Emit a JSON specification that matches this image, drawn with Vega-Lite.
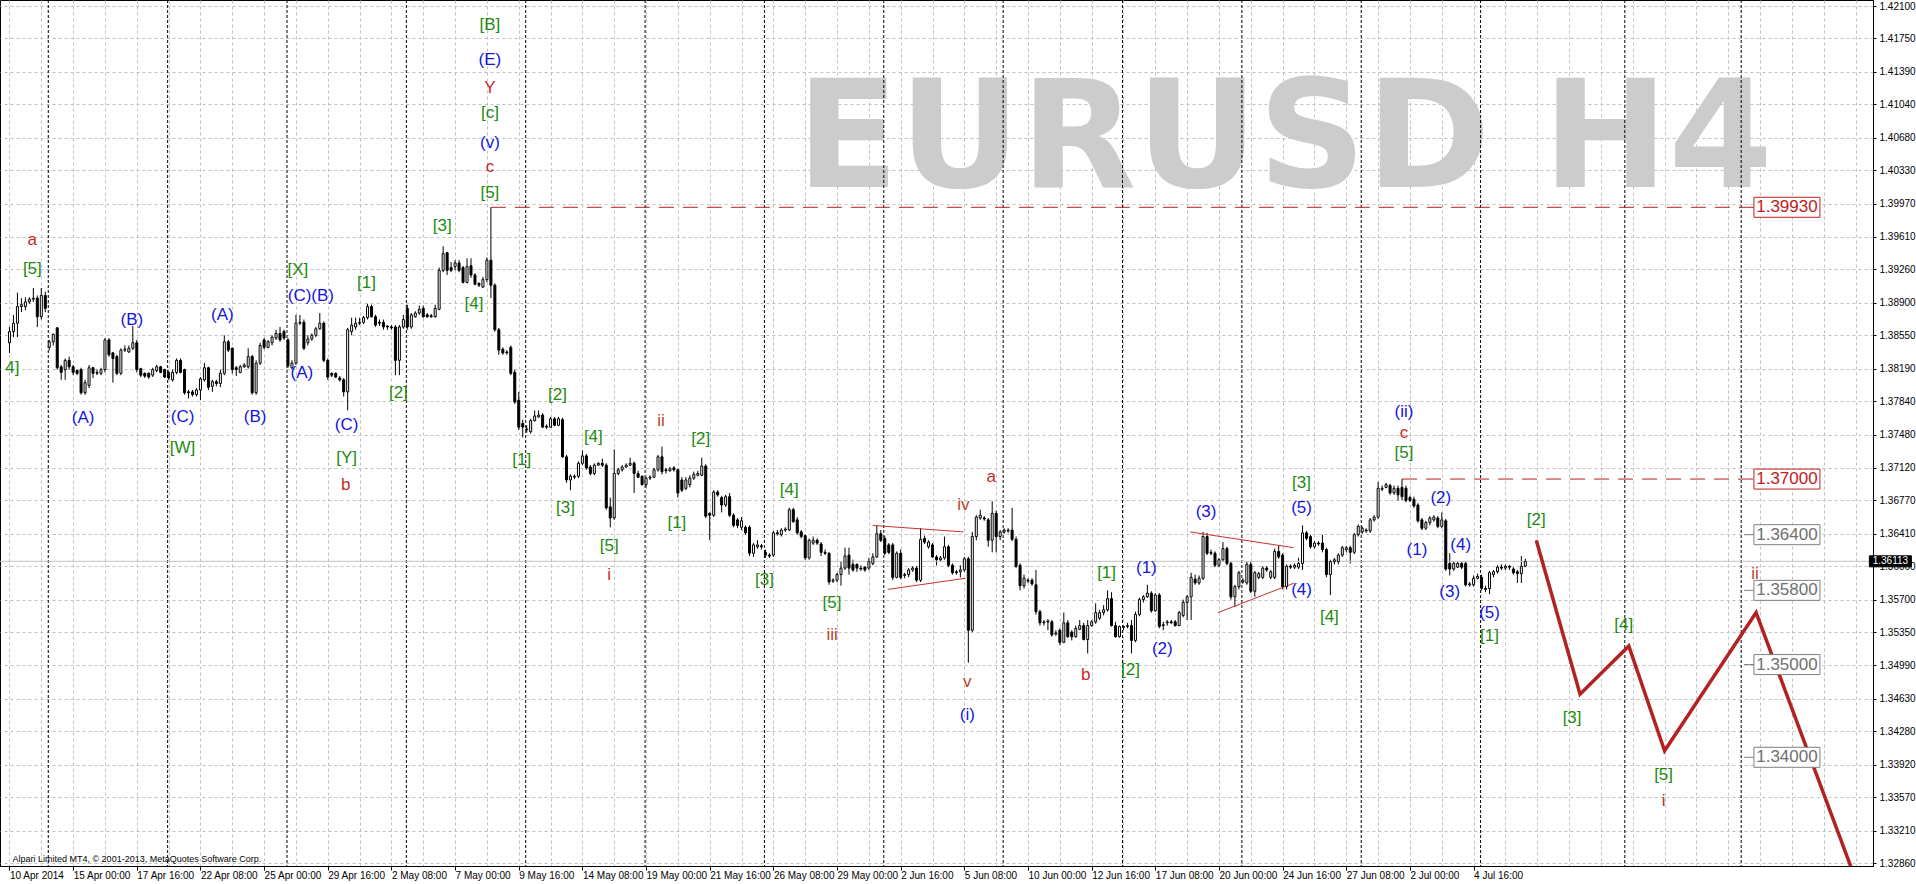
{
"$schema":"https://vega.github.io/schema/vega-lite/v6.json",
"width":1873,"height":866,
"autosize":{"type":"none"},
"padding":{"left":0,"top":0,"right":43,"bottom":18},
"background":"white",
"config":{"view":{"stroke":"black","strokeWidth":1},"text":{"font":"Liberation Sans"},"axis":{"labelOverlap":false,"labelSeparation":0,"labelBound":false}},
"datasets":{
"candles":[
{"i":0,"o":1.3847,"h":1.3864,"l":1.3836,"c":1.3859},{"i":1,"o":1.3859,"h":1.3877,"l":1.3853,"c":1.3868},{"i":2,"o":1.3868,"h":1.3901,"l":1.3853,"c":1.3886},{"i":3,"o":1.3886,"h":1.3895,"l":1.388,"c":1.3888},{"i":4,"o":1.3886,"h":1.3896,"l":1.3882,"c":1.3891},{"i":5,"o":1.3891,"h":1.3896,"l":1.3889,"c":1.3894},{"i":6,"o":1.3894,"h":1.3906,"l":1.3891,"c":1.3895},{"i":7,"o":1.3895,"h":1.3898,"l":1.3864,"c":1.3875},{"i":8,"o":1.3875,"h":1.3906,"l":1.3872,"c":1.3898},{"i":9,"o":1.3898,"h":1.3902,"l":1.388,"c":1.3884},
{"i":10,"o":1.3842,"h":1.385,"l":1.3839,"c":1.3848},{"i":11,"o":1.3848,"h":1.3857,"l":1.3844,"c":1.3856},{"i":12,"o":1.3863,"h":1.3864,"l":1.3818,"c":1.382},{"i":13,"o":1.3821,"h":1.3823,"l":1.3807,"c":1.3815},{"i":14,"o":1.3818,"h":1.383,"l":1.3807,"c":1.3828},{"i":15,"o":1.3828,"h":1.3832,"l":1.3818,"c":1.3821},{"i":16,"o":1.3821,"h":1.3823,"l":1.3812,"c":1.3815},{"i":17,"o":1.3817,"h":1.3818,"l":1.3812,"c":1.3814},{"i":18,"o":1.3818,"h":1.382,"l":1.3791,"c":1.3793},{"i":19,"o":1.3793,"h":1.3807,"l":1.3791,"c":1.3804},
{"i":20,"o":1.3801,"h":1.3823,"l":1.3798,"c":1.382},{"i":21,"o":1.382,"h":1.3821,"l":1.3809,"c":1.3814},{"i":22,"o":1.3814,"h":1.3818,"l":1.3812,"c":1.3815},{"i":23,"o":1.3814,"h":1.382,"l":1.3812,"c":1.3818},{"i":24,"o":1.3818,"h":1.3852,"l":1.3815,"c":1.385},{"i":25,"o":1.385,"h":1.3852,"l":1.3832,"c":1.3834},{"i":26,"o":1.3836,"h":1.3837,"l":1.3804,"c":1.383},{"i":27,"o":1.3832,"h":1.3834,"l":1.3812,"c":1.3814},{"i":28,"o":1.3814,"h":1.3841,"l":1.3812,"c":1.3839},{"i":29,"o":1.3839,"h":1.3844,"l":1.3837,"c":1.384},
{"i":30,"o":1.3837,"h":1.3844,"l":1.3836,"c":1.3841},{"i":31,"o":1.3841,"h":1.3865,"l":1.3839,"c":1.3847},{"i":32,"o":1.3847,"h":1.385,"l":1.3815,"c":1.3818},{"i":33,"o":1.3819,"h":1.382,"l":1.381,"c":1.3812},{"i":34,"o":1.3814,"h":1.3815,"l":1.3809,"c":1.3811},{"i":35,"o":1.3814,"h":1.3815,"l":1.3808,"c":1.381},{"i":36,"o":1.3812,"h":1.382,"l":1.381,"c":1.3818},{"i":37,"o":1.3817,"h":1.3823,"l":1.3815,"c":1.3821},{"i":38,"o":1.3821,"h":1.3822,"l":1.3814,"c":1.3815},{"i":39,"o":1.3818,"h":1.3819,"l":1.3809,"c":1.381},
{"i":40,"o":1.3815,"h":1.3817,"l":1.3807,"c":1.3809},{"i":41,"o":1.3807,"h":1.3818,"l":1.3805,"c":1.3815},{"i":42,"o":1.3815,"h":1.383,"l":1.3813,"c":1.3828},{"i":43,"o":1.3828,"h":1.383,"l":1.3814,"c":1.3815},{"i":44,"o":1.3818,"h":1.3819,"l":1.3791,"c":1.3793},{"i":45,"o":1.3794,"h":1.3796,"l":1.3787,"c":1.3793},{"i":46,"o":1.3794,"h":1.3796,"l":1.3789,"c":1.3791},{"i":47,"o":1.3791,"h":1.3798,"l":1.3789,"c":1.3796},{"i":48,"o":1.3796,"h":1.381,"l":1.3785,"c":1.3808},{"i":49,"o":1.3807,"h":1.3825,"l":1.3805,"c":1.382},
{"i":50,"o":1.382,"h":1.3821,"l":1.3796,"c":1.3799},{"i":51,"o":1.38,"h":1.3807,"l":1.3794,"c":1.3805},{"i":52,"o":1.3805,"h":1.3807,"l":1.38,"c":1.3803},{"i":53,"o":1.3803,"h":1.3818,"l":1.3799,"c":1.3814},{"i":54,"o":1.3814,"h":1.3855,"l":1.3812,"c":1.3848},{"i":55,"o":1.3848,"h":1.385,"l":1.3837,"c":1.3839},{"i":56,"o":1.3841,"h":1.3842,"l":1.3814,"c":1.3818},{"i":57,"o":1.382,"h":1.3822,"l":1.3811,"c":1.3818},{"i":58,"o":1.3815,"h":1.3823,"l":1.3814,"c":1.3821},{"i":59,"o":1.3821,"h":1.3825,"l":1.382,"c":1.3823},
{"i":60,"o":1.3821,"h":1.3841,"l":1.3819,"c":1.3832},{"i":61,"o":1.3832,"h":1.3834,"l":1.3791,"c":1.3793},{"i":62,"o":1.3793,"h":1.3828,"l":1.3791,"c":1.3825},{"i":63,"o":1.3825,"h":1.3847,"l":1.3823,"c":1.3844},{"i":64,"o":1.385,"h":1.3852,"l":1.384,"c":1.3842},{"i":65,"o":1.3842,"h":1.385,"l":1.3841,"c":1.3848},{"i":66,"o":1.3847,"h":1.3855,"l":1.3844,"c":1.3853},{"i":67,"o":1.3852,"h":1.3861,"l":1.385,"c":1.3857},{"i":68,"o":1.3857,"h":1.3864,"l":1.3848,"c":1.385},{"i":69,"o":1.3859,"h":1.3861,"l":1.385,"c":1.3852},
{"i":70,"o":1.385,"h":1.3852,"l":1.382,"c":1.3822},{"i":71,"o":1.382,"h":1.3828,"l":1.3818,"c":1.3825},{"i":72,"o":1.3825,"h":1.3877,"l":1.3823,"c":1.3868},{"i":73,"o":1.3868,"h":1.3877,"l":1.3866,"c":1.3869},{"i":74,"o":1.3869,"h":1.3872,"l":1.3839,"c":1.3841},{"i":75,"o":1.3847,"h":1.3855,"l":1.3844,"c":1.3851},{"i":76,"o":1.3851,"h":1.3857,"l":1.3849,"c":1.3855},{"i":77,"o":1.3855,"h":1.3864,"l":1.3853,"c":1.3862},{"i":78,"o":1.3862,"h":1.3879,"l":1.3861,"c":1.3868},{"i":79,"o":1.3868,"h":1.387,"l":1.3826,"c":1.3828},
{"i":80,"o":1.3828,"h":1.383,"l":1.3807,"c":1.381},{"i":81,"o":1.3814,"h":1.3815,"l":1.381,"c":1.3812},{"i":82,"o":1.3814,"h":1.3815,"l":1.3809,"c":1.381},{"i":83,"o":1.3809,"h":1.3811,"l":1.3805,"c":1.3807},{"i":84,"o":1.3807,"h":1.3809,"l":1.3789,"c":1.3794},{"i":85,"o":1.3794,"h":1.3863,"l":1.3774,"c":1.3861},{"i":86,"o":1.3859,"h":1.3874,"l":1.3855,"c":1.3866},{"i":87,"o":1.3864,"h":1.3874,"l":1.3861,"c":1.3868},{"i":88,"o":1.3868,"h":1.3874,"l":1.3866,"c":1.3869},{"i":89,"o":1.3869,"h":1.3876,"l":1.3867,"c":1.3874},
{"i":90,"o":1.3874,"h":1.3889,"l":1.3872,"c":1.3886},{"i":91,"o":1.3886,"h":1.3888,"l":1.3874,"c":1.3875},{"i":92,"o":1.3875,"h":1.3877,"l":1.3864,"c":1.3866},{"i":93,"o":1.3869,"h":1.3872,"l":1.3865,"c":1.3868},{"i":94,"o":1.3869,"h":1.3872,"l":1.3861,"c":1.3864},{"i":95,"o":1.3865,"h":1.3866,"l":1.3861,"c":1.3864},{"i":96,"o":1.3864,"h":1.3866,"l":1.3861,"c":1.3863},{"i":97,"o":1.3864,"h":1.3866,"l":1.3812,"c":1.3828},{"i":98,"o":1.3828,"h":1.3866,"l":1.3812,"c":1.3864},{"i":99,"o":1.3864,"h":1.3877,"l":1.3862,"c":1.3872},
{"i":100,"o":1.3884,"h":1.3888,"l":1.3861,"c":1.3864},{"i":101,"o":1.3864,"h":1.3879,"l":1.3862,"c":1.3877},{"i":102,"o":1.3875,"h":1.3881,"l":1.3874,"c":1.3879},{"i":103,"o":1.3879,"h":1.3887,"l":1.3877,"c":1.3883},{"i":104,"o":1.3884,"h":1.3887,"l":1.3874,"c":1.3875},{"i":105,"o":1.3877,"h":1.3879,"l":1.3874,"c":1.3875},{"i":106,"o":1.3876,"h":1.3878,"l":1.3874,"c":1.3875},{"i":107,"o":1.3875,"h":1.3888,"l":1.3874,"c":1.3884},{"i":108,"o":1.3883,"h":1.3928,"l":1.3882,"c":1.3925},{"i":109,"o":1.3925,"h":1.3951,"l":1.3923,"c":1.3943},
{"i":110,"o":1.3944,"h":1.3945,"l":1.392,"c":1.3925},{"i":111,"o":1.3928,"h":1.3934,"l":1.3923,"c":1.3925},{"i":112,"o":1.3929,"h":1.3936,"l":1.3925,"c":1.3933},{"i":113,"o":1.3933,"h":1.3936,"l":1.3923,"c":1.3925},{"i":114,"o":1.3928,"h":1.393,"l":1.3911,"c":1.3912},{"i":115,"o":1.3912,"h":1.3938,"l":1.3911,"c":1.3929},{"i":116,"o":1.393,"h":1.3938,"l":1.3917,"c":1.392},{"i":117,"o":1.392,"h":1.3922,"l":1.3909,"c":1.391},{"i":118,"o":1.3911,"h":1.3912,"l":1.3907,"c":1.3909},{"i":119,"o":1.3907,"h":1.3918,"l":1.3906,"c":1.3915},
{"i":120,"o":1.3915,"h":1.3939,"l":1.3912,"c":1.3936},{"i":121,"o":1.3936,"h":1.3993,"l":1.3895,"c":1.3909},{"i":122,"o":1.3909,"h":1.3911,"l":1.3859,"c":1.3861},{"i":123,"o":1.3861,"h":1.3863,"l":1.3834,"c":1.3839},{"i":124,"o":1.384,"h":1.3842,"l":1.3834,"c":1.3836},{"i":125,"o":1.3837,"h":1.3839,"l":1.3834,"c":1.3836},{"i":126,"o":1.3842,"h":1.3844,"l":1.3812,"c":1.3814},{"i":127,"o":1.3815,"h":1.3818,"l":1.3781,"c":1.3783},{"i":128,"o":1.3785,"h":1.3794,"l":1.3753,"c":1.3756},{"i":129,"o":1.376,"h":1.3764,"l":1.3745,"c":1.3756},
{"i":130,"o":1.3753,"h":1.3758,"l":1.375,"c":1.3754},{"i":131,"o":1.3751,"h":1.3765,"l":1.3749,"c":1.3763},{"i":132,"o":1.3763,"h":1.3774,"l":1.3762,"c":1.3768},{"i":133,"o":1.3767,"h":1.3774,"l":1.3766,"c":1.3769},{"i":134,"o":1.3769,"h":1.3771,"l":1.3755,"c":1.3756},{"i":135,"o":1.3757,"h":1.3759,"l":1.3754,"c":1.3756},{"i":136,"o":1.3756,"h":1.3767,"l":1.3755,"c":1.3765},{"i":137,"o":1.3765,"h":1.3767,"l":1.3757,"c":1.3758},{"i":138,"o":1.3758,"h":1.3767,"l":1.3757,"c":1.3765},{"i":139,"o":1.3764,"h":1.3766,"l":1.3723,"c":1.3724},
{"i":140,"o":1.3724,"h":1.3726,"l":1.3696,"c":1.3699},{"i":141,"o":1.3699,"h":1.3705,"l":1.3688,"c":1.3703},{"i":142,"o":1.3702,"h":1.3705,"l":1.37,"c":1.3703},{"i":143,"o":1.3703,"h":1.3719,"l":1.3701,"c":1.3717},{"i":144,"o":1.3717,"h":1.3731,"l":1.3715,"c":1.3725},{"i":145,"o":1.3725,"h":1.3727,"l":1.371,"c":1.3712},{"i":146,"o":1.3713,"h":1.3715,"l":1.3704,"c":1.3706},{"i":147,"o":1.3706,"h":1.3717,"l":1.3704,"c":1.3715},{"i":148,"o":1.3715,"h":1.3718,"l":1.3714,"c":1.3717},{"i":149,"o":1.3717,"h":1.3722,"l":1.3713,"c":1.3715},
{"i":150,"o":1.3715,"h":1.3717,"l":1.3667,"c":1.3669},{"i":151,"o":1.367,"h":1.368,"l":1.3648,"c":1.3658},{"i":152,"o":1.3658,"h":1.3732,"l":1.3656,"c":1.3706},{"i":153,"o":1.3706,"h":1.3712,"l":1.3704,"c":1.371},{"i":154,"o":1.371,"h":1.3715,"l":1.3708,"c":1.3713},{"i":155,"o":1.3713,"h":1.3717,"l":1.3712,"c":1.3715},{"i":156,"o":1.3715,"h":1.3723,"l":1.3714,"c":1.3717},{"i":157,"o":1.3717,"h":1.3719,"l":1.3685,"c":1.3706},{"i":158,"o":1.3706,"h":1.3709,"l":1.3701,"c":1.3702},{"i":159,"o":1.3703,"h":1.3704,"l":1.3693,"c":1.3694},
{"i":160,"o":1.3694,"h":1.3702,"l":1.3691,"c":1.3701},{"i":161,"o":1.3701,"h":1.3704,"l":1.3699,"c":1.3702},{"i":162,"o":1.3702,"h":1.3712,"l":1.3701,"c":1.371},{"i":163,"o":1.371,"h":1.3726,"l":1.3708,"c":1.3724},{"i":164,"o":1.3724,"h":1.3735,"l":1.3705,"c":1.3708},{"i":165,"o":1.371,"h":1.3712,"l":1.3706,"c":1.3709},{"i":166,"o":1.3709,"h":1.3713,"l":1.3708,"c":1.3711},{"i":167,"o":1.3712,"h":1.3714,"l":1.3708,"c":1.371},{"i":168,"o":1.371,"h":1.3711,"l":1.368,"c":1.3685},{"i":169,"o":1.3699,"h":1.3702,"l":1.3686,"c":1.3688},
{"i":170,"o":1.369,"h":1.3702,"l":1.3688,"c":1.3699},{"i":171,"o":1.3694,"h":1.3704,"l":1.3691,"c":1.3701},{"i":172,"o":1.3701,"h":1.3708,"l":1.3699,"c":1.3705},{"i":173,"o":1.3704,"h":1.3709,"l":1.3703,"c":1.3706},{"i":174,"o":1.3704,"h":1.3723,"l":1.3703,"c":1.3714},{"i":175,"o":1.3714,"h":1.3716,"l":1.3658,"c":1.366},{"i":176,"o":1.3663,"h":1.3664,"l":1.3634,"c":1.3661},{"i":177,"o":1.3661,"h":1.3688,"l":1.3659,"c":1.3686},{"i":178,"o":1.3686,"h":1.3688,"l":1.3681,"c":1.3683},{"i":179,"o":1.368,"h":1.3682,"l":1.3664,"c":1.3672},
{"i":180,"o":1.3672,"h":1.3683,"l":1.367,"c":1.3681},{"i":181,"o":1.3681,"h":1.3685,"l":1.3659,"c":1.3661},{"i":182,"o":1.3661,"h":1.3663,"l":1.3648,"c":1.365},{"i":183,"o":1.3656,"h":1.3658,"l":1.3647,"c":1.365},{"i":184,"o":1.3648,"h":1.3659,"l":1.3645,"c":1.3655},{"i":185,"o":1.3648,"h":1.365,"l":1.364,"c":1.3642},{"i":186,"o":1.3648,"h":1.365,"l":1.3617,"c":1.362},{"i":187,"o":1.362,"h":1.3631,"l":1.3616,"c":1.3629},{"i":188,"o":1.3627,"h":1.3634,"l":1.3625,"c":1.3629},{"i":189,"o":1.3628,"h":1.363,"l":1.3624,"c":1.3627},
{"i":190,"o":1.3621,"h":1.3624,"l":1.3615,"c":1.3618},{"i":191,"o":1.3618,"h":1.362,"l":1.3615,"c":1.3617},{"i":192,"o":1.3618,"h":1.3644,"l":1.3616,"c":1.3642},{"i":193,"o":1.3642,"h":1.3645,"l":1.3639,"c":1.3641},{"i":194,"o":1.364,"h":1.3647,"l":1.3638,"c":1.3645},{"i":195,"o":1.3645,"h":1.3648,"l":1.3643,"c":1.3646},{"i":196,"o":1.3645,"h":1.3669,"l":1.3644,"c":1.3667},{"i":197,"o":1.3667,"h":1.3669,"l":1.3653,"c":1.3654},{"i":198,"o":1.3656,"h":1.3659,"l":1.364,"c":1.3642},{"i":199,"o":1.3643,"h":1.3645,"l":1.3636,"c":1.3638},
{"i":200,"o":1.3639,"h":1.364,"l":1.3613,"c":1.3615},{"i":201,"o":1.3615,"h":1.3636,"l":1.3613,"c":1.3634},{"i":202,"o":1.3631,"h":1.3638,"l":1.3629,"c":1.3634},{"i":203,"o":1.3634,"h":1.3636,"l":1.3629,"c":1.3631},{"i":204,"o":1.363,"h":1.3632,"l":1.3617,"c":1.3621},{"i":205,"o":1.3621,"h":1.3624,"l":1.3618,"c":1.362},{"i":206,"o":1.362,"h":1.3621,"l":1.3586,"c":1.3589},{"i":207,"o":1.359,"h":1.3593,"l":1.3588,"c":1.3591},{"i":208,"o":1.3591,"h":1.3599,"l":1.3589,"c":1.3597},{"i":209,"o":1.3597,"h":1.3611,"l":1.3585,"c":1.3604},
{"i":210,"o":1.3604,"h":1.3626,"l":1.3602,"c":1.3617},{"i":211,"o":1.3618,"h":1.3626,"l":1.3597,"c":1.3604},{"i":212,"o":1.3608,"h":1.3613,"l":1.36,"c":1.3602},{"i":213,"o":1.3608,"h":1.3609,"l":1.36,"c":1.3604},{"i":214,"o":1.3604,"h":1.3607,"l":1.3601,"c":1.3603},{"i":215,"o":1.3605,"h":1.3606,"l":1.36,"c":1.3602},{"i":216,"o":1.3604,"h":1.3615,"l":1.3602,"c":1.3611},{"i":217,"o":1.3609,"h":1.362,"l":1.3607,"c":1.3616},{"i":218,"o":1.3616,"h":1.365,"l":1.3615,"c":1.3641},{"i":219,"o":1.3641,"h":1.3645,"l":1.3632,"c":1.3634},
{"i":220,"o":1.3636,"h":1.3639,"l":1.3618,"c":1.362},{"i":221,"o":1.3629,"h":1.3631,"l":1.3619,"c":1.3621},{"i":222,"o":1.3629,"h":1.3631,"l":1.3591,"c":1.3594},{"i":223,"o":1.3594,"h":1.3622,"l":1.3593,"c":1.362},{"i":224,"o":1.362,"h":1.3624,"l":1.3592,"c":1.3594},{"i":225,"o":1.3596,"h":1.3599,"l":1.3593,"c":1.3597},{"i":226,"o":1.3597,"h":1.3604,"l":1.3594,"c":1.3602},{"i":227,"o":1.3602,"h":1.3606,"l":1.36,"c":1.3604},{"i":228,"o":1.3604,"h":1.3606,"l":1.3589,"c":1.3591},{"i":229,"o":1.3591,"h":1.3647,"l":1.3589,"c":1.3635},
{"i":230,"o":1.3636,"h":1.3639,"l":1.363,"c":1.3632},{"i":231,"o":1.3627,"h":1.3634,"l":1.3625,"c":1.3632},{"i":232,"o":1.3629,"h":1.3631,"l":1.3615,"c":1.3616},{"i":233,"o":1.3616,"h":1.3618,"l":1.3607,"c":1.3613},{"i":234,"o":1.3613,"h":1.3617,"l":1.3611,"c":1.3615},{"i":235,"o":1.3615,"h":1.3638,"l":1.3613,"c":1.3627},{"i":236,"o":1.3627,"h":1.3629,"l":1.3605,"c":1.3607},{"i":237,"o":1.3607,"h":1.3609,"l":1.3597,"c":1.3599},{"i":238,"o":1.36,"h":1.3602,"l":1.3597,"c":1.3599},{"i":239,"o":1.36,"h":1.3607,"l":1.3594,"c":1.3602},
{"i":240,"o":1.3602,"h":1.3616,"l":1.36,"c":1.3614},{"i":241,"o":1.3614,"h":1.3616,"l":1.3502,"c":1.3537},{"i":242,"o":1.3537,"h":1.3643,"l":1.3535,"c":1.3638},{"i":243,"o":1.3638,"h":1.3661,"l":1.3634,"c":1.3659},{"i":244,"o":1.3658,"h":1.3667,"l":1.3656,"c":1.3661},{"i":245,"o":1.3658,"h":1.366,"l":1.3655,"c":1.3657},{"i":246,"o":1.3656,"h":1.3658,"l":1.3627,"c":1.3634},{"i":247,"o":1.3634,"h":1.3676,"l":1.3621,"c":1.3663},{"i":248,"o":1.3663,"h":1.3666,"l":1.3621,"c":1.3638},{"i":249,"o":1.3638,"h":1.3645,"l":1.3634,"c":1.3643},
{"i":250,"o":1.3643,"h":1.3647,"l":1.3641,"c":1.3645},{"i":251,"o":1.3644,"h":1.3647,"l":1.3642,"c":1.3645},{"i":252,"o":1.3645,"h":1.3669,"l":1.3633,"c":1.3635},{"i":253,"o":1.3635,"h":1.3638,"l":1.3604,"c":1.3606},{"i":254,"o":1.3607,"h":1.3609,"l":1.358,"c":1.3585},{"i":255,"o":1.3585,"h":1.3597,"l":1.3582,"c":1.3593},{"i":256,"o":1.3591,"h":1.3593,"l":1.3588,"c":1.359},{"i":257,"o":1.3591,"h":1.3593,"l":1.3585,"c":1.3587},{"i":258,"o":1.3586,"h":1.3602,"l":1.3554,"c":1.3557},{"i":259,"o":1.3557,"h":1.3559,"l":1.3542,"c":1.3545},
{"i":260,"o":1.3545,"h":1.3548,"l":1.3542,"c":1.3546},{"i":261,"o":1.3547,"h":1.3549,"l":1.3537,"c":1.3546},{"i":262,"o":1.3546,"h":1.3548,"l":1.353,"c":1.3532},{"i":263,"o":1.3533,"h":1.3537,"l":1.3531,"c":1.3534},{"i":264,"o":1.3537,"h":1.3539,"l":1.3521,"c":1.3524},{"i":265,"o":1.3524,"h":1.3556,"l":1.3523,"c":1.3545},{"i":266,"o":1.3545,"h":1.3548,"l":1.3529,"c":1.353},{"i":267,"o":1.3535,"h":1.3537,"l":1.3526,"c":1.353},{"i":268,"o":1.353,"h":1.3542,"l":1.3529,"c":1.3539},{"i":269,"o":1.3538,"h":1.3548,"l":1.3537,"c":1.3542},
{"i":270,"o":1.3542,"h":1.3545,"l":1.3526,"c":1.3527},{"i":271,"o":1.3527,"h":1.3548,"l":1.3512,"c":1.3542},{"i":272,"o":1.3542,"h":1.3548,"l":1.3541,"c":1.3546},{"i":273,"o":1.3546,"h":1.3566,"l":1.3544,"c":1.3556},{"i":274,"o":1.355,"h":1.3559,"l":1.3548,"c":1.3556},{"i":275,"o":1.3556,"h":1.3564,"l":1.3553,"c":1.3559},{"i":276,"o":1.3559,"h":1.358,"l":1.3557,"c":1.3571},{"i":277,"o":1.3571,"h":1.3578,"l":1.3541,"c":1.3542},{"i":278,"o":1.3542,"h":1.3546,"l":1.3529,"c":1.353},{"i":279,"o":1.353,"h":1.3542,"l":1.3529,"c":1.3541},
{"i":280,"o":1.354,"h":1.3542,"l":1.3537,"c":1.3541},{"i":281,"o":1.3541,"h":1.3545,"l":1.3539,"c":1.3542},{"i":282,"o":1.3542,"h":1.3548,"l":1.3512,"c":1.3526},{"i":283,"o":1.3526,"h":1.3557,"l":1.3524,"c":1.3554},{"i":284,"o":1.3554,"h":1.3572,"l":1.3552,"c":1.357},{"i":285,"o":1.357,"h":1.3575,"l":1.3567,"c":1.3573},{"i":286,"o":1.3573,"h":1.3586,"l":1.3572,"c":1.3577},{"i":287,"o":1.3577,"h":1.3579,"l":1.3556,"c":1.3558},{"i":288,"o":1.3558,"h":1.3577,"l":1.3557,"c":1.3575},{"i":289,"o":1.3575,"h":1.3577,"l":1.3539,"c":1.3541},
{"i":290,"o":1.3542,"h":1.3546,"l":1.3537,"c":1.3543},{"i":291,"o":1.3545,"h":1.3548,"l":1.3542,"c":1.3546},{"i":292,"o":1.3546,"h":1.3548,"l":1.3544,"c":1.3545},{"i":293,"o":1.3546,"h":1.3548,"l":1.3541,"c":1.3542},{"i":294,"o":1.3542,"h":1.3558,"l":1.3542,"c":1.3556},{"i":295,"o":1.3553,"h":1.357,"l":1.3551,"c":1.3567},{"i":296,"o":1.3567,"h":1.3575,"l":1.3548,"c":1.3573},{"i":297,"o":1.3573,"h":1.3599,"l":1.3548,"c":1.3594},{"i":298,"o":1.3592,"h":1.3597,"l":1.3586,"c":1.3588},{"i":299,"o":1.3588,"h":1.3596,"l":1.3586,"c":1.3593},
{"i":300,"o":1.3593,"h":1.3643,"l":1.3591,"c":1.3638},{"i":301,"o":1.3638,"h":1.3642,"l":1.3618,"c":1.362},{"i":302,"o":1.3621,"h":1.3624,"l":1.3618,"c":1.362},{"i":303,"o":1.362,"h":1.3622,"l":1.3605,"c":1.3607},{"i":304,"o":1.3607,"h":1.3615,"l":1.3605,"c":1.3613},{"i":305,"o":1.3613,"h":1.3632,"l":1.3611,"c":1.3625},{"i":306,"o":1.3625,"h":1.3627,"l":1.3607,"c":1.3609},{"i":307,"o":1.3609,"h":1.3611,"l":1.357,"c":1.3573},{"i":308,"o":1.3573,"h":1.3586,"l":1.3562,"c":1.3584},{"i":309,"o":1.3584,"h":1.3601,"l":1.3581,"c":1.3599},
{"i":310,"o":1.3589,"h":1.3593,"l":1.3587,"c":1.3591},{"i":311,"o":1.3588,"h":1.3611,"l":1.3586,"c":1.3608},{"i":312,"o":1.3608,"h":1.3611,"l":1.3577,"c":1.3579},{"i":313,"o":1.3579,"h":1.3601,"l":1.3573,"c":1.3599},{"i":314,"o":1.3594,"h":1.36,"l":1.3592,"c":1.3598},{"i":315,"o":1.3594,"h":1.3606,"l":1.3592,"c":1.3604},{"i":316,"o":1.3604,"h":1.3606,"l":1.36,"c":1.3602},{"i":317,"o":1.3594,"h":1.3602,"l":1.3592,"c":1.36},{"i":318,"o":1.3594,"h":1.3625,"l":1.3592,"c":1.3622},{"i":319,"o":1.3622,"h":1.3628,"l":1.3614,"c":1.3616},
{"i":320,"o":1.3618,"h":1.362,"l":1.3581,"c":1.3584},{"i":321,"o":1.3584,"h":1.3608,"l":1.3581,"c":1.3606},{"i":322,"o":1.3606,"h":1.3608,"l":1.3603,"c":1.3605},{"i":323,"o":1.3605,"h":1.3609,"l":1.3603,"c":1.3607},{"i":324,"o":1.3605,"h":1.3615,"l":1.3603,"c":1.3609},{"i":325,"o":1.3609,"h":1.365,"l":1.3602,"c":1.3642},{"i":326,"o":1.3642,"h":1.3644,"l":1.3634,"c":1.3636},{"i":327,"o":1.3638,"h":1.364,"l":1.3625,"c":1.3627},{"i":328,"o":1.3627,"h":1.3633,"l":1.3625,"c":1.3631},{"i":329,"o":1.3631,"h":1.3633,"l":1.3628,"c":1.363},
{"i":330,"o":1.3631,"h":1.364,"l":1.3621,"c":1.3624},{"i":331,"o":1.3624,"h":1.3626,"l":1.3594,"c":1.3597},{"i":332,"o":1.3597,"h":1.3613,"l":1.3575,"c":1.3611},{"i":333,"o":1.3611,"h":1.3615,"l":1.3608,"c":1.3613},{"i":334,"o":1.3611,"h":1.362,"l":1.3608,"c":1.3618},{"i":335,"o":1.3618,"h":1.3628,"l":1.3616,"c":1.3626},{"i":336,"o":1.3624,"h":1.3628,"l":1.3621,"c":1.3626},{"i":337,"o":1.3626,"h":1.3628,"l":1.3609,"c":1.3621},{"i":338,"o":1.3621,"h":1.3642,"l":1.3619,"c":1.364},{"i":339,"o":1.364,"h":1.3651,"l":1.3638,"c":1.3649},
{"i":340,"o":1.3643,"h":1.3649,"l":1.3641,"c":1.3647},{"i":341,"o":1.3645,"h":1.3647,"l":1.3642,"c":1.3644},{"i":342,"o":1.3644,"h":1.3658,"l":1.3642,"c":1.3656},{"i":343,"o":1.3656,"h":1.3661,"l":1.3654,"c":1.3659},{"i":344,"o":1.3659,"h":1.3697,"l":1.3657,"c":1.369},{"i":345,"o":1.3689,"h":1.3693,"l":1.3687,"c":1.369},{"i":346,"o":1.3691,"h":1.3696,"l":1.369,"c":1.3694},{"i":347,"o":1.3693,"h":1.3695,"l":1.3683,"c":1.3685},{"i":348,"o":1.3685,"h":1.3693,"l":1.3683,"c":1.369},{"i":349,"o":1.369,"h":1.3693,"l":1.3677,"c":1.3683},
{"i":350,"o":1.3691,"h":1.37,"l":1.3677,"c":1.3681},{"i":351,"o":1.369,"h":1.3693,"l":1.3675,"c":1.3677},{"i":352,"o":1.368,"h":1.3682,"l":1.3675,"c":1.3677},{"i":353,"o":1.3678,"h":1.3681,"l":1.3669,"c":1.3671},{"i":354,"o":1.3672,"h":1.3674,"l":1.3653,"c":1.3655},{"i":355,"o":1.3656,"h":1.3658,"l":1.3645,"c":1.3647},{"i":356,"o":1.3647,"h":1.3655,"l":1.3645,"c":1.3653},{"i":357,"o":1.3653,"h":1.366,"l":1.365,"c":1.3658},{"i":358,"o":1.3656,"h":1.3661,"l":1.3654,"c":1.3659},{"i":359,"o":1.3658,"h":1.366,"l":1.3647,"c":1.3649},
{"i":360,"o":1.3649,"h":1.3664,"l":1.3647,"c":1.3656},{"i":361,"o":1.3655,"h":1.3657,"l":1.3601,"c":1.3603},{"i":362,"o":1.3609,"h":1.362,"l":1.3596,"c":1.3603},{"i":363,"o":1.3603,"h":1.3611,"l":1.3601,"c":1.3609},{"i":364,"o":1.3605,"h":1.3611,"l":1.3604,"c":1.3609},{"i":365,"o":1.3609,"h":1.3611,"l":1.3603,"c":1.3605},{"i":366,"o":1.3609,"h":1.3611,"l":1.3584,"c":1.3586},{"i":367,"o":1.3586,"h":1.3589,"l":1.3584,"c":1.3587},{"i":368,"o":1.3586,"h":1.3596,"l":1.3584,"c":1.3593},{"i":369,"o":1.3593,"h":1.3598,"l":1.3592,"c":1.3595},
{"i":370,"o":1.3594,"h":1.3597,"l":1.358,"c":1.3582},{"i":371,"o":1.3582,"h":1.3585,"l":1.3578,"c":1.3581},{"i":372,"o":1.3582,"h":1.3601,"l":1.3576,"c":1.3599},{"i":373,"o":1.3597,"h":1.3602,"l":1.3594,"c":1.36},{"i":374,"o":1.36,"h":1.3607,"l":1.3598,"c":1.3605},{"i":375,"o":1.3605,"h":1.3608,"l":1.3602,"c":1.3604},{"i":376,"o":1.3604,"h":1.3608,"l":1.3602,"c":1.3606},{"i":377,"o":1.3606,"h":1.3607,"l":1.3602,"c":1.3605},{"i":378,"o":1.3603,"h":1.3605,"l":1.3597,"c":1.3599},{"i":379,"o":1.36,"h":1.3602,"l":1.3588,"c":1.3598},
{"i":380,"o":1.3598,"h":1.3617,"l":1.3588,"c":1.3606},{"i":381,"o":1.3606,"h":1.3614,"l":1.3605,"c":1.36113}
],
"labels":[
{"i":120.75,"p":1.41895,"t":"[B]","k":"g"},{"i":120.75,"p":1.41518,"t":"(E)","k":"b"},{"i":120.75,"p":1.41216,"t":"Y","k":"r"},{"i":120.75,"p":1.40947,"t":"[c]","k":"g"},{"i":120.75,"p":1.40623,"t":"(v)","k":"b"},{"i":120.75,"p":1.40364,"t":"c","k":"r"},{"i":120.75,"p":1.40084,"t":"[5]","k":"g"},{"i":108.75,"p":1.39728,"t":"[3]","k":"g"},
{"i":5.75,"p":1.39577,"t":"a","k":"r"},{"i":5.75,"p":1.39265,"t":"[5]","k":"g"},{"i":0.75,"p":1.38197,"t":"4]","k":"g"},{"i":18.5,"p":1.37658,"t":"(A)","k":"b"},{"i":30.75,"p":1.38715,"t":"(B)","k":"b"},{"i":43.5,"p":1.37669,"t":"(C)","k":"b"},{"i":43.5,"p":1.37335,"t":"[W]","k":"g"},{"i":53.5,"p":1.38769,"t":"(A)","k":"b"},{"i":61.75,"p":1.37669,"t":"(B)","k":"b"},{"i":72.5,"p":1.39254,"t":"[X]","k":"g"},{"i":75.75,"p":1.38973,"t":"(C)(B)","k":"b"},{"i":73.5,"p":1.38143,"t":"(A)","k":"b"},{"i":89.75,"p":1.39114,"t":"[1]","k":"g"},{"i":84.75,"p":1.37583,"t":"(C)","k":"b"},{"i":84.75,"p":1.37227,"t":"[Y]","k":"g"},{"i":84.5,"p":1.36936,"t":"b","k":"r"},{"i":97.75,"p":1.37928,"t":"[2]","k":"g"},{"i":116.75,"p":1.38887,"t":"[4]","k":"g"},
{"i":137.75,"p":1.37906,"t":"[2]","k":"g"},{"i":128.75,"p":1.37205,"t":"[1]","k":"g"},{"i":146.75,"p":1.37453,"t":"[4]","k":"g"},{"i":139.75,"p":1.36688,"t":"[3]","k":"g"},{"i":163.75,"p":1.37626,"t":"ii","k":"m"},{"i":173.75,"p":1.37432,"t":"[2]","k":"g"},{"i":167.75,"p":1.36526,"t":"[1]","k":"g"},{"i":150.75,"p":1.36278,"t":"[5]","k":"g"},{"i":150.75,"p":1.35965,"t":"i","k":"r"},{"i":189.75,"p":1.35911,"t":"[3]","k":"g"},{"i":196,"p":1.36882,"t":"[4]","k":"g"},{"i":206.75,"p":1.35663,"t":"[5]","k":"g"},{"i":206.75,"p":1.35318,"t":"iii","k":"m"},
{"i":239.75,"p":1.3672,"t":"iv","k":"m"},{"i":246.75,"p":1.37022,"t":"a","k":"r"},{"i":240.75,"p":1.34812,"t":"v","k":"m"},{"i":240.75,"p":1.34456,"t":"(i)","k":"b"},{"i":270.5,"p":1.34887,"t":"b","k":"r"},{"i":275.75,"p":1.35987,"t":"[1]","k":"g"},{"i":285.75,"p":1.36041,"t":"(1)","k":"b"},{"i":281.75,"p":1.34941,"t":"[2]","k":"g"},{"i":289.75,"p":1.35167,"t":"(2)","k":"b"},{"i":300.75,"p":1.36645,"t":"(3)","k":"b"},{"i":324.75,"p":1.36957,"t":"[3]","k":"g"},{"i":324.75,"p":1.36688,"t":"(5)","k":"b"},{"i":324.75,"p":1.35803,"t":"(4)","k":"b"},{"i":331.75,"p":1.35513,"t":"[4]","k":"g"},
{"i":350.5,"p":1.37723,"t":"(ii)","k":"b"},{"i":350.5,"p":1.37496,"t":"c","k":"r"},{"i":350.5,"p":1.37281,"t":"[5]","k":"g"},{"i":359.75,"p":1.36796,"t":"(2)","k":"b"},{"i":353.75,"p":1.36235,"t":"(1)","k":"b"},{"i":364.75,"p":1.36289,"t":"(4)","k":"b"},{"i":362,"p":1.35782,"t":"(3)","k":"b"},{"i":372,"p":1.35556,"t":"(5)","k":"b"},{"i":372,"p":1.35308,"t":"[1]","k":"g"},
{"i":383.75,"p":1.36558,"t":"[2]","k":"g"},{"i":392.75,"p":1.34423,"t":"[3]","k":"g"},{"i":405.75,"p":1.35426,"t":"[4]","k":"g"},{"i":415.75,"p":1.33809,"t":"[5]","k":"g"},{"i":415.75,"p":1.33529,"t":"i","k":"r"},{"i":438.75,"p":1.35976,"t":"ii","k":"m"}
],
"separators":[{"i":9.75},{"i":39.75},{"i":69.75},{"i":99.75},{"i":129.75},{"i":159.75},{"i":189.75},{"i":219.75},{"i":249.75},{"i":279.75},{"i":309.75},{"i":339.75},{"i":369.75},{"i":406},{"i":435.25}],
"projection":[{"k":1,"i":383.75,"p":1.3634},{"k":2,"i":394.75,"p":1.3468},{"k":3,"i":407,"p":1.352},{"k":4,"i":416,"p":1.3407},{"k":5,"i":439,"p":1.3556},{"k":6,"i":463,"p":1.328}],
"triangles":[{"s":1,"i":217,"p":1.365},{"s":1,"i":239.75,"p":1.3643},{"s":2,"i":220.75,"p":1.3581},{"s":2,"i":240.25,"p":1.3593},{"s":3,"i":296.75,"p":1.3643},{"s":3,"i":322.75,"p":1.3626},{"s":4,"i":303.75,"p":1.3556},{"s":4,"i":323,"p":1.3588}],
"redLevels":[{"i":121,"p":1.3993,"t":"1.39930"},{"i":350,"p":1.37,"t":"1.37000"}],
"grayLevels":[{"i":436,"p":1.364,"t":"1.36400"},{"i":436,"p":1.358,"t":"1.35800"},{"i":436,"p":1.35,"t":"1.35000"},{"i":436,"p":1.34,"t":"1.34000"}],
"current":[{"p":1.36113,"t":"1.36113"}],
"notes":[{"i":320.5,"p":1.40149,"t":"EURUSD H4","kind":"mark"},{"i":0.75,"p":1.32903,"t":"Alpari Limited MT4, © 2001-2013, MetaQuotes Software Corp.","kind":"copy"}]
},
"layer":[
{"data":{"name":"candles"},"mark":{"type":"rule","color":"black","strokeWidth":1},
 "encoding":{
  "x":{"field":"i","type":"quantitative","scale":{"domain":[-1.125,467.125],"nice":false,"zero":false},
   "axis":{"title":null,"orient":"bottom","tickCount":200,"values":[0,8,16,24,32,40,48,56,64,72,80,88,96,104,112,120,128,136,144,152,160,168,176,184,192,200,208,216,224,232,240,248,256,264,272,280,288,296,304,312,320,328,336,344,352,360,368,376,384,392,400,408,416,424,432,440,448,456,464],
    "grid":true,"gridColor":"#c0c0c0","gridDash":[3,3],"gridWidth":1,"domainColor":"black",
    "tickColor":{"condition":{"test":"datum.value % 16 === 0 && datum.value <= 368","value":"black"},"value":"transparent"},
    "tickSize":4,"labelAlign":"left","labelPadding":0,"labelOverlap":false,"labelFlush":false,"labelFont":"Liberation Sans","labelFontSize":10,"labelColor":"black",
    "labelExpr":"(datum.value % 16 === 0 && datum.value <= 368) ? ['10 Apr 2014','15 Apr 00:00','17 Apr 16:00','22 Apr 08:00','25 Apr 00:00','29 Apr 16:00','2 May 08:00','7 May 00:00','9 May 16:00','14 May 08:00','19 May 00:00','21 May 16:00','26 May 08:00','29 May 00:00','2 Jun 16:00','5 Jun 08:00','10 Jun 00:00','12 Jun 16:00','17 Jun 08:00','20 Jun 00:00','24 Jun 16:00','27 Jun 08:00','2 Jul 00:00','4 Jul 16:00'][datum.value/16] : ''"}},
  "y":{"field":"l","type":"quantitative","scale":{"domain":[1.32828,1.42165],"nice":false,"zero":false},
   "axis":{"title":null,"orient":"right","tickCount":200,"values":[1.3286,1.3321,1.3357,1.3392,1.3428,1.3463,1.3499,1.3535,1.357,1.3606,1.3641,1.3677,1.3712,1.3748,1.3784,1.3819,1.3855,1.389,1.3926,1.3961,1.3997,1.4033,1.4068,1.4104,1.4139,1.4175,1.421],
    "format":".5f","grid":true,"gridColor":"#c0c0c0","gridDash":[3,3],"gridWidth":1,"domainColor":"black","tickColor":"black","tickSize":3,"labelPadding":3,"labelOverlap":false,"labelFlush":false,"labelFont":"Liberation Sans","labelFontSize":10,"labelColor":"black"}},
  "y2":{"field":"h"}}},
{"data":{"name":"notes"},"transform":[{"filter":"datum.kind === 'mark'"}],
 "mark":{"type":"text","font":"DejaVu Sans","fontWeight":"bold","fontSize":150,"align":"center","baseline":"alphabetic","color":"#cccccc"},
 "encoding":{"x":{"field":"i","type":"quantitative"},"y":{"field":"p","type":"quantitative"},"text":{"field":"t"}}},
{"data":{"name":"separators"},"mark":{"type":"rule","color":"black","strokeWidth":1,"strokeDash":[3,2]},
 "encoding":{"x":{"field":"i","type":"quantitative"}}},
{"data":{"name":"current"},"mark":{"type":"rule","color":"#c0c0c0","strokeWidth":1},
 "encoding":{"y":{"field":"p","type":"quantitative"}}},
{"data":{"name":"redLevels"},"mark":{"type":"rule","color":"#b22222","strokeWidth":1,"strokeDash":[15,9]},
 "encoding":{"x":{"field":"i","type":"quantitative"},"x2":{"datum":438.5},"y":{"field":"p","type":"quantitative"}}},
{"data":{"name":"grayLevels"},"mark":{"type":"rule","color":"#808080","strokeWidth":1},
 "encoding":{"x":{"field":"i","type":"quantitative"},"x2":{"datum":438.5},"y":{"field":"p","type":"quantitative"}}},
{"data":{"name":"triangles"},"mark":{"type":"line","color":"#c83232","strokeWidth":1},
 "encoding":{"x":{"field":"i","type":"quantitative"},"y":{"field":"p","type":"quantitative"},"detail":{"field":"s"}}},
{"data":{"name":"projection"},"mark":{"type":"line","color":"#b22222","strokeWidth":3.5,"clip":true},
 "encoding":{"x":{"field":"i","type":"quantitative"},"y":{"field":"p","type":"quantitative"},"order":{"field":"k"}}},
{"data":{"name":"candles"},"mark":{"type":"bar","size":2,"stroke":"black","strokeWidth":1},
 "encoding":{"x":{"field":"i","type":"quantitative"},"y":{"field":"o","type":"quantitative"},"y2":{"field":"c"},
  "fill":{"condition":{"test":"datum.c >= datum.o","value":"white"},"value":"black"}}},
{"data":{"name":"labels"},"mark":{"type":"text","font":"Liberation Sans","fontSize":17,"align":"center","baseline":"middle"},
 "encoding":{"x":{"field":"i","type":"quantitative"},"y":{"field":"p","type":"quantitative"},"text":{"field":"t"},
  "color":{"field":"k","type":"nominal","scale":{"domain":["g","b","r","m"],"range":["#1f8a0f","#1515e0","#c8282a","#b5452a"]},"legend":null}}},
{"data":{"name":"redLevels"},"mark":{"type":"point","shape":"M-3.3,-1H3.3V1H-3.3Z","size":400,"filled":true,"fill":"white","stroke":"#c02020","strokeWidth":1,"opacity":1},
 "encoding":{"x":{"datum":446.75},"y":{"field":"p","type":"quantitative"}}},
{"data":{"name":"grayLevels"},"mark":{"type":"point","shape":"M-3.3,-1H3.3V1H-3.3Z","size":400,"filled":true,"fill":"white","stroke":"#808080","strokeWidth":1,"opacity":1},
 "encoding":{"x":{"datum":446.75},"y":{"field":"p","type":"quantitative"}}},
{"data":{"name":"redLevels"},"mark":{"type":"text","font":"Liberation Sans","fontSize":17,"align":"center","baseline":"middle","color":"#c02020"},
 "encoding":{"x":{"datum":446.75},"y":{"field":"p","type":"quantitative"},"text":{"field":"t"}}},
{"data":{"name":"grayLevels"},"mark":{"type":"text","font":"Liberation Sans","fontSize":17,"align":"center","baseline":"middle","color":"#707070"},
 "encoding":{"x":{"datum":446.75},"y":{"field":"p","type":"quantitative"},"text":{"field":"t"}}},
{"data":{"name":"current"},"mark":{"type":"point","shape":"M-3.818,-1H3.818V1H-3.818Z","size":121,"filled":true,"fill":"black","stroke":"black","strokeWidth":1,"opacity":1},
 "encoding":{"x":{"datum":472.75},"y":{"field":"p","type":"quantitative"}}},
{"data":{"name":"current"},"mark":{"type":"text","font":"Liberation Sans","fontSize":10,"align":"center","baseline":"middle","color":"white"},
 "encoding":{"x":{"datum":472.75},"y":{"field":"p","type":"quantitative"},"text":{"field":"t"}}},
{"data":{"name":"notes"},"transform":[{"filter":"datum.kind === 'copy'"}],
 "mark":{"type":"text","font":"Liberation Sans","fontSize":9,"align":"left","baseline":"middle","color":"black"},
 "encoding":{"x":{"field":"i","type":"quantitative"},"y":{"field":"p","type":"quantitative"},"text":{"field":"t"}}}
]
}
